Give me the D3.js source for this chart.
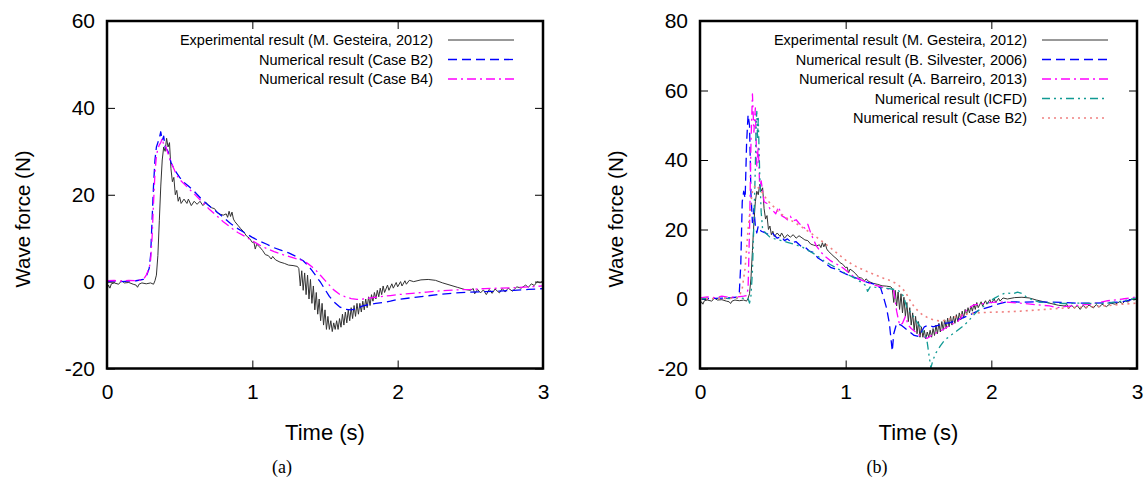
<!DOCTYPE html>
<html>
<head>
<meta charset="utf-8">
<script src="https://cdn.jsdelivr.net/npm/d3@7"></script>
<style>
  body { margin: 0; background: #fff; }
  text { font-family: "Liberation Sans", Arial, Helvetica, sans-serif; fill: #000; }
  .caption { font-family: "Liberation Serif", "DejaVu Serif", serif; }
</style>
</head>
<body>
<script>
// Experimental force (M. Gesteira, 2012) [time s, force N], same record in both panels
const experimental = [
  [0,-1.8],[0.01,-0.8],[0.02,-1.5],[0.03,-0.5],[0.05,-0.3],[0.08,-0.6],[0.1,0.2],[0.12,-0.3],[0.15,-0.2],
  [0.18,-0.6],[0.2,-0.8],[0.21,-1.3],[0.22,-0.6],[0.24,-0.3],[0.27,-0.5],[0.3,-0.3],[0.32,-0.6],[0.33,0.2],
  [0.34,1.5],[0.35,6],[0.36,14],[0.37,22],[0.38,28],[0.39,31],[0.40,30],[0.41,33],[0.42,31],[0.43,32],
  [0.44,26],[0.45,23],[0.46,24],[0.47,20],[0.48,21],[0.49,18.5],[0.5,19.5],[0.51,18],[0.53,19],[0.55,18],
  [0.56,19],[0.58,17.5],[0.6,18.5],[0.62,17.8],[0.64,18.5],[0.66,17.5],[0.68,18.2],[0.7,17.6],[0.72,17.0],
  [0.74,16.8],[0.76,15.8],[0.78,15.5],[0.8,15.3],[0.82,15.6],[0.83,14.8],[0.84,16.2],[0.85,15.0],[0.86,16.0],
  [0.87,14.4],[0.88,13.8],[0.9,13.0],[0.92,12.2],[0.94,11.5],[0.96,10.5],[0.98,10.0],[1.0,9.0],[1.01,9.2],
  [1.02,7.5],[1.03,8.6],[1.05,8.0],[1.07,7.2],[1.09,6.2],[1.11,6.0],[1.13,5.2],[1.14,5.8],[1.16,5.0],
  [1.19,4.5],[1.22,4.2],[1.25,3.8],[1.28,3.7],[1.31,3.5],[1.32,3.0],[1.33,-1],[1.34,2.5],[1.35,-2],
  [1.36,2],[1.37,-3],[1.38,1.5],[1.39,-4],[1.40,0.5],[1.41,-5],[1.42,-1],[1.43,-6.5],[1.44,-2.5],
  [1.45,-7.5],[1.46,-4],[1.47,-9],[1.48,-5],[1.49,-10],[1.50,-6.5],[1.51,-11],[1.52,-8],[1.53,-11],
  [1.54,-9],[1.55,-11.5],[1.56,-9.5],[1.57,-11],[1.58,-9],[1.59,-11],[1.60,-8.5],[1.61,-10.5],[1.62,-7.5],
  [1.63,-10],[1.64,-7],[1.65,-9.5],[1.66,-6.5],[1.67,-9],[1.68,-6],[1.69,-8.5],[1.70,-5.5],[1.71,-8],
  [1.72,-5],[1.73,-7.5],[1.74,-5],[1.75,-7],[1.76,-4.5],[1.77,-6.5],[1.78,-4],[1.79,-6],[1.80,-3.5],
  [1.81,-5.5],[1.82,-3],[1.83,-4.5],[1.84,-2.5],[1.85,-4],[1.86,-2],[1.87,-3.5],[1.88,-1.5],[1.89,-3],
  [1.90,-1],[1.91,-2.5],[1.93,-0.8],[1.94,-2],[1.96,-0.5],[1.97,-1.5],[1.99,-0.2],[2.0,-1.2],[2.02,0],
  [2.03,-1],[2.05,0.2],[2.06,-0.6],[2.08,0.3],[2.11,0],[2.16,0.4],[2.21,0.5],[2.26,0.3],[2.31,-0.3],
  [2.36,-0.8],[2.41,-1.3],[2.46,-1.8],[2.5,-2.0],[2.52,-1.6],[2.53,-2.8],[2.55,-1.8],[2.57,-2.6],
  [2.59,-1.9],[2.61,-3.0],[2.63,-1.8],[2.65,-2.7],[2.67,-1.7],[2.7,-2.6],[2.72,-1.6],[2.74,-2.4],
  [2.76,-1.5],[2.79,-2.2],[2.82,-1.2],[2.85,-1.5],[2.88,-0.8],[2.9,-1.3],[2.92,-0.5],[2.94,-0.9],
  [2.96,0],[2.98,-0.3],[3.0,0.2]
];

// panel (a)
const caseB2a = [
  [0,0],[0.05,0.2],[0.1,0],[0.15,0.1],[0.2,0.2],[0.25,0.5],[0.27,1.2],[0.29,3],[0.30,6],[0.31,14],
  [0.32,22],[0.33,28],[0.34,31],[0.35,32],[0.36,33],[0.37,34.5],[0.38,32.5],[0.39,33.5],[0.40,31],
  [0.42,30],[0.44,27.5],[0.46,26],[0.48,25],[0.50,24],[0.53,22.8],[0.56,22],[0.6,20.8],[0.65,19],
  [0.7,17.5],[0.75,16.2],[0.8,14.8],[0.85,13.4],[0.9,12.2],[0.95,11.2],[1.0,10.2],[1.05,9.3],[1.1,8.6],
  [1.15,7.8],[1.2,7.2],[1.25,6.6],[1.3,5.8],[1.35,4.8],[1.38,3.8],[1.41,2.6],[1.44,1.2],[1.47,-0.2],
  [1.50,-1.8],[1.53,-3.4],[1.56,-4.6],[1.6,-5.8],[1.64,-6.4],[1.68,-6.5],[1.72,-6.2],[1.76,-5.6],
  [1.8,-5.3],[1.85,-5.0],[1.9,-4.8],[1.95,-4.5],[2.0,-4.1],[2.1,-3.7],[2.2,-3.3],[2.3,-2.9],[2.4,-2.6],
  [2.5,-2.4],[2.6,-2.3],[2.7,-2.2],[2.8,-2.0],[2.9,-1.8],[3.0,-1.6]
];
const caseB4a = [
  [0,0.2],[0.05,0.3],[0.1,0.1],[0.15,0.3],[0.2,0.2],[0.25,0.5],[0.27,1.5],[0.29,3],[0.30,5],[0.31,10],
  [0.32,18],[0.33,25],[0.34,29],[0.35,30.5],[0.36,31.5],[0.37,32],[0.38,33],[0.39,31.5],[0.40,31.5],
  [0.42,29.5],[0.44,27.5],[0.46,26],[0.48,24.5],[0.50,23.5],[0.53,22.5],[0.56,21.5],[0.6,20.2],
  [0.65,18.5],[0.7,16.8],[0.75,15.3],[0.8,13.8],[0.85,12.5],[0.9,11.3],[0.95,10.4],[1.0,9.4],[1.05,8.4],
  [1.1,7.6],[1.15,6.9],[1.2,6.3],[1.25,5.8],[1.3,5.3],[1.35,4.8],[1.38,4.2],[1.41,3.4],[1.44,2.5],
  [1.47,1.4],[1.50,0.3],[1.53,-0.8],[1.56,-1.9],[1.6,-2.9],[1.64,-3.5],[1.68,-3.9],[1.72,-4.1],
  [1.76,-4.0],[1.8,-3.8],[1.85,-3.6],[1.9,-3.4],[1.95,-3.2],[2.0,-3.0],[2.1,-2.7],[2.2,-2.4],[2.3,-2.1],
  [2.4,-1.9],[2.5,-1.8],[2.6,-1.6],[2.7,-1.5],[2.8,-1.4],[2.9,-1.2],[3.0,-1.0]
];

// panel (b)
const silvester = [
  [0,0],[0.1,0.2],[0.2,0.3],[0.25,0.5],[0.27,2],[0.28,10],[0.29,28],[0.30,31],[0.31,29],[0.32,45],
  [0.33,53],[0.34,50],[0.35,30],[0.36,22],[0.37,26],[0.38,21],[0.39,19],[0.40,21],[0.42,19.5],[0.45,19],
  [0.48,18.3],[0.5,18.8],[0.53,17.5],[0.56,18],[0.58,16.8],[0.6,17.3],[0.63,16.2],[0.66,16.5],[0.69,15.3],
  [0.72,15.0],[0.75,13.8],[0.78,13.4],[0.81,11.8],[0.84,11.0],[0.87,10.0],[0.9,9.0],[0.93,8.6],[0.96,8.0],
  [1.0,7.2],[1.05,6.4],[1.1,5.6],[1.15,4.8],[1.2,4.2],[1.24,3.2],[1.26,0.5],[1.28,-2.5],[1.30,-7],
  [1.32,-15],[1.33,-10],[1.35,-7],[1.38,-7.5],[1.41,-8.5],[1.44,-9.5],[1.47,-10.5],[1.5,-10.8],
  [1.52,-9.5],[1.54,-8],[1.57,-7.5],[1.6,-8],[1.64,-7.5],[1.68,-7],[1.72,-6.8],[1.76,-6],[1.8,-5.5],
  [1.84,-4.8],[1.88,-4],[1.92,-3.2],[1.96,-2.6],[2.0,-2.1],[2.05,-1.4],[2.1,-0.9],[2.15,-0.8],[2.2,-0.9],
  [2.3,-0.8],[2.4,-0.9],[2.5,-1.0],[2.6,-1.2],[2.7,-1.2],[2.8,-1.1],[2.9,-0.8],[3.0,0.2]
];
const barreiro = [
  [0,0.3],[0.05,0.6],[0.1,0.4],[0.15,0.8],[0.2,0.5],[0.25,0.6],[0.3,0.8],[0.32,1.0],[0.33,3],[0.34,20],
  [0.35,45],[0.36,59],[0.37,48],[0.38,55],[0.39,38],[0.40,44],[0.41,32],[0.42,34],[0.44,28],[0.46,27.5],
  [0.48,26],[0.50,25.5],[0.52,24.5],[0.54,26.5],[0.56,24],[0.58,23.5],[0.60,22.8],[0.62,23.8],[0.64,22.5],
  [0.66,22.8],[0.68,21.8],[0.70,21],[0.72,20.4],[0.74,21.5],[0.76,19],[0.78,17],[0.80,15.2],[0.83,13.5],
  [0.86,12.2],[0.89,11.2],[0.92,10.4],[0.95,9.8],[0.98,9.0],[1.02,7.6],[1.05,6.6],[1.1,5.6],[1.15,4.7],
  [1.2,4.0],[1.26,3.3],[1.3,2.8],[1.33,2.4],[1.35,-3.5],[1.37,-7.5],[1.39,-7],[1.41,-5],[1.43,-7.5],
  [1.45,-8.5],[1.48,-9.5],[1.51,-10.5],[1.54,-11],[1.56,-11.3],[1.59,-10.5],[1.62,-9.8],[1.66,-9],
  [1.70,-8],[1.74,-7],[1.77,-6.4],[1.79,-5.5],[1.81,-4],[1.84,-2.8],[1.88,-1.7],[1.92,-1.5],[1.96,-1.2],
  [2.0,-1.0],[2.05,-0.9],[2.1,-0.9],[2.2,-1.2],[2.3,-1.6],[2.4,-2.0],[2.45,-2.5],[2.5,-2.2],[2.6,-1.8],
  [2.7,-1.4],[2.8,-0.5],[2.9,0.0],[3.0,0.6]
];
const icfd = [
  [0,0],[0.05,0.2],[0.1,0],[0.15,0.3],[0.2,0.1],[0.25,0.3],[0.3,0.2],[0.33,0.2],[0.34,-1.2],[0.35,1],
  [0.36,8],[0.37,22],[0.38,38],[0.385,50],[0.39,54],[0.395,46],[0.40,52],[0.41,36],[0.42,25],[0.43,20],
  [0.45,19],[0.48,17.8],[0.52,17.2],[0.56,16.8],[0.6,16.3],[0.65,15.7],[0.7,15.0],[0.75,13.8],[0.8,12.6],
  [0.85,11.0],[0.9,9.8],[0.95,8.6],[1.0,7.3],[1.05,6.3],[1.1,5.0],[1.14,3.8],[1.15,2.2],[1.17,3.6],
  [1.2,3.4],[1.25,3.2],[1.3,3.0],[1.35,2.6],[1.38,2.0],[1.4,0.5],[1.42,-2.5],[1.45,-4],[1.48,-6],
  [1.51,-7.8],[1.54,-10],[1.56,-12.5],[1.575,-17],[1.585,-19.8],[1.6,-17.5],[1.62,-15.5],[1.65,-13.5],
  [1.68,-11.8],[1.72,-10.5],[1.76,-9.3],[1.8,-8],[1.84,-6.5],[1.87,-5],[1.9,-3.7],[1.94,-2.3],[1.98,-1.0],
  [2.02,0.2],[2.06,1.1],[2.1,1.8],[2.15,1.5],[2.18,2.0],[2.21,1.6],[2.24,0.6],[2.28,-0.2],[2.33,-0.9],
  [2.4,-1.1],[2.5,-1.3],[2.6,-1.2],[2.7,-1.3],[2.8,-1.2],[2.9,-0.6],[3.0,0.3]
];
const caseB2b = [
  [0,0],[0.1,0.1],[0.2,0.2],[0.25,0.3],[0.27,0.8],[0.29,3],[0.31,9],[0.33,20],[0.35,28],[0.36,31],
  [0.38,32.8],[0.40,32],[0.43,30.5],[0.46,28.5],[0.50,26.8],[0.55,24.7],[0.6,23.2],[0.65,22.0],[0.7,20.7],
  [0.75,19.3],[0.8,17.8],[0.85,16.2],[0.9,14.6],[0.95,12.9],[1.0,11.2],[1.05,9.8],[1.1,8.8],[1.17,7.5],
  [1.26,6.0],[1.3,5.4],[1.35,4.4],[1.38,3.4],[1.41,2.0],[1.44,-0.3],[1.47,-2.2],[1.5,-3.6],[1.53,-4.6],
  [1.56,-5.3],[1.6,-6.0],[1.64,-6.3],[1.68,-6.2],[1.72,-5.7],[1.76,-5.0],[1.8,-4.5],[1.85,-4.2],[1.9,-4.0],
  [2.0,-3.8],[2.1,-3.7],[2.2,-3.5],[2.3,-3.2],[2.4,-2.9],[2.5,-2.6],[2.6,-2.4],[2.7,-2.2],[2.8,-1.9],
  [2.9,-1.5],[3.0,-1.2]
];

const xTicks = [0, 1, 2, 3];
const yTicksA = [-20, 0, 20, 40, 60];
const yTicksB = [-20, 0, 20, 40, 60, 80];
const labelsA = ['Experimental result (M. Gesteira, 2012)', 'Numerical result (Case B2)', 'Numerical result (Case B4)'];
const labelsB = ['Experimental result (M. Gesteira, 2012)', 'Numerical result (B. Silvester, 2006)',
  'Numerical result (A. Barreiro, 2013)', 'Numerical result (ICFD)', 'Numerical result (Case B2)'];

const styles = {
  exp:   { stroke: '#333333', width: 1, dash: null },
  blue:  { stroke: '#0000ff', width: 1.3, dash: '9,5' },
  mag:   { stroke: '#ff00ff', width: 1.3, dash: '9,4,2,4' },
  teal:  { stroke: '#119a94', width: 1.3, dash: '8,4,2,4,2,4' },
  salm:  { stroke: '#f08080', width: 1.6, dash: '2,4' }
};

const W = 1148, H = 486;
const svg = d3.select('body').append('svg').attr('width', W).attr('height', H);
svg.append('rect').attr('width', W).attr('height', H).attr('fill', '#fff');

function drawPanel(p) {
  const x = d3.scaleLinear().domain([0, 3]).range([p.x0, p.x1]);
  const y = d3.scaleLinear().domain(p.yDomain).range([p.y1, p.y0]);
  const g = svg.append('g');

  g.append('clipPath').attr('id', p.id)
    .append('rect').attr('x', p.x0).attr('y', p.y0).attr('width', p.x1 - p.x0).attr('height', p.y1 - p.y0);

  // inward ticks, mirrored on all sides
  const tk = 8;
  const fmt = d => String(d);
  const bottom = g.append('g').attr('transform', `translate(0,${p.y1})`)
    .call(d3.axisBottom(x).tickValues(xTicks).tickSize(-tk).tickPadding(16).tickFormat(fmt));
  const left = g.append('g').attr('transform', `translate(${p.x0},0)`)
    .call(d3.axisLeft(y).tickValues(p.yTicks).tickSize(-tk).tickPadding(12).tickFormat(fmt));
  g.append('g').attr('transform', `translate(0,${p.y0})`)
    .call(d3.axisTop(x).tickValues(xTicks).tickSize(-tk).tickFormat(''));
  g.append('g').attr('transform', `translate(${p.x1},0)`)
    .call(d3.axisRight(y).tickValues(p.yTicks).tickSize(-tk).tickFormat(''));
  g.selectAll('.domain').remove();
  g.selectAll('.tick line').attr('stroke', '#000').attr('stroke-width', 1);
  bottom.selectAll('text').attr('font-size', 21).attr('font-family', '"Liberation Sans", Arial, sans-serif');
  left.selectAll('text').attr('font-size', 21).attr('font-family', '"Liberation Sans", Arial, sans-serif');

  const line = d3.line().x(d => x(d[0])).y(d => y(d[1]));
  const lines = g.append('g').attr('clip-path', `url(#${p.id})`);
  p.series.forEach(s => {
    lines.append('path').datum(s.data)
      .attr('fill', 'none')
      .attr('stroke', s.style.stroke)
      .attr('stroke-width', s.style.width)
      .attr('stroke-dasharray', s.style.dash)
      .attr('stroke-linejoin', 'round')
      .attr('d', line);
  });

  // legend
  p.series.forEach((s, i) => {
    const ly = p.legendY + i * 19.5;
    g.append('text').attr('x', p.legendX).attr('y', ly + 5)
      .attr('text-anchor', 'end').attr('font-size', 14.5).text(s.label);
    g.append('line').attr('x1', p.legendX + 15).attr('x2', p.legendX + 81)
      .attr('y1', ly).attr('y2', ly)
      .attr('stroke', s.style.stroke).attr('stroke-width', s.style.width)
      .attr('stroke-dasharray', s.style.dash);
  });

  // frame
  g.append('rect').attr('x', p.x0).attr('y', p.y0)
    .attr('width', p.x1 - p.x0).attr('height', p.y1 - p.y0)
    .attr('fill', 'none').attr('stroke', '#000').attr('stroke-width', 2.5);

  // axis titles and caption
  g.append('text').attr('x', (p.x0 + p.x1) / 2).attr('y', 440)
    .attr('text-anchor', 'middle').attr('font-size', 22).text('Time (s)');
  g.append('text').attr('transform', `translate(${p.x0 - 77},219) rotate(-90)`)
    .attr('text-anchor', 'middle').attr('font-size', 20.5).text('Wave force (N)');
  g.append('text').attr('class', 'caption').attr('x', p.captionX).attr('y', 473)
    .attr('text-anchor', 'middle').attr('font-size', 18).text(p.caption);
}

drawPanel({
  id: 'clipA', x0: 107, x1: 543, y0: 21, y1: 368.5, yDomain: [-20, 60], yTicks: yTicksA,
  legendX: 433, legendY: 40, caption: '(a)', captionX: 282,
  series: [
    { data: experimental, style: styles.exp, label: labelsA[0] },
    { data: caseB2a, style: styles.blue, label: labelsA[1] },
    { data: caseB4a, style: styles.mag, label: labelsA[2] }
  ]
});

drawPanel({
  id: 'clipB', x0: 700, x1: 1137, y0: 21, y1: 368.5, yDomain: [-20, 80], yTicks: yTicksB,
  legendX: 1027, legendY: 40, caption: '(b)', captionX: 877,
  series: [
    { data: experimental, style: styles.exp, label: labelsB[0] },
    { data: silvester, style: styles.blue, label: labelsB[1] },
    { data: barreiro, style: styles.mag, label: labelsB[2] },
    { data: icfd, style: styles.teal, label: labelsB[3] },
    { data: caseB2b, style: styles.salm, label: labelsB[4] }
  ]
});
</script>
</body>
</html>
